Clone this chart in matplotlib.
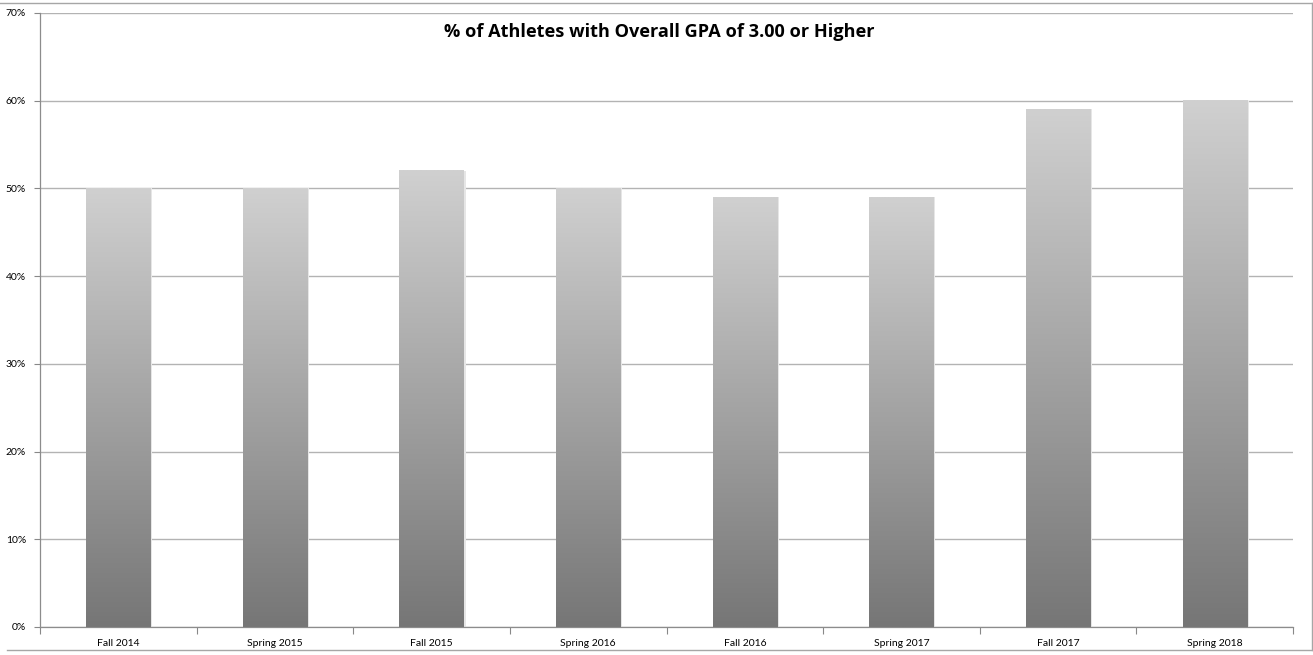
import numpy as np
import matplotlib
matplotlib.use('Agg')
import matplotlib.pyplot as plt
from matplotlib.lines import Line2D
from matplotlib.patches import Rectangle

terms = ['Fall 2014', 'Spring 2015', 'Fall 2015', 'Spring 2016',
         'Fall 2016', 'Spring 2017', 'Fall 2017', 'Spring 2018']
pct_high_gpa = [50, 50, 52, 50, 49, 49, 59, 60]

plt.rcParams['font.family'] = ['Lato', 'DejaVu Sans']

fig = plt.figure(figsize=(13.13, 6.55), dpi=100)
ax = fig.add_axes([40 / 1313, 1 - 627 / 655, 1253 / 1313, 614 / 655])

# vertical grey gradient, light at top, dark at bottom
grad = np.linspace(0, 1, 256).reshape(-1, 1)
cmap = matplotlib.colors.LinearSegmentedColormap.from_list('g', ['#767676', '#d0d0d0'])

x = np.arange(len(terms))
width = 0.41
for xi, val in zip(x, pct_high_gpa):
    x0, x1 = xi - width / 2, xi + width / 2
    # soft shadow on the right edge
    ax.add_patch(Rectangle((x1, 0), 0.012, val, color='#e6e6e6', lw=0, zorder=2))
    ax.imshow(grad, cmap=cmap, origin='lower', aspect='auto',
              extent=[x0, x1, 0, val], zorder=3, interpolation='bilinear')

ax.set_xlim(-0.5, len(terms) - 0.5)
ax.set_ylim(0, 70)
ax.set_yticks(range(0, 71, 10))
ax.set_yticklabels([f'{v}%' for v in range(0, 71, 10)], fontsize=7.5)
ax.set_xticks(x)
ax.set_xticklabels(terms, fontsize=7.5)
ax.set_xticks(np.arange(-0.5, len(terms)), minor=True)
ax.tick_params(axis='x', which='major', length=0, pad=9)
ax.tick_params(axis='x', which='minor', length=5, color='#888888', width=0.8)
ax.tick_params(axis='y', length=4, color='#888888', width=0.8, pad=6)

ax.grid(axis='y', color='#b3b3b3', lw=1, zorder=1)
ax.set_axisbelow(True)
for side in ['top', 'right']:
    ax.spines[side].set_visible(False)
for side in ['left', 'bottom']:
    ax.spines[side].set_color('#8c8c8c')
    ax.spines[side].set_linewidth(0.9)

fig.text(659 / 1313, 1 - 32 / 655, '% of Athletes with Overall GPA of 3.00 or Higher',
         ha='center', va='center', fontsize=13.1, fontweight='bold',
         family=['Open Sans', 'DejaVu Sans'])

# chart frame
fig.add_artist(Line2D([0, 1311.5 / 1313], [1 - 3 / 655] * 2, color='#a6a6a6', lw=1))
fig.add_artist(Line2D([7 / 1313, 1311.5 / 1313], [1 - 650 / 655] * 2, color='#a6a6a6', lw=1))
fig.add_artist(Line2D([1311.5 / 1313] * 2, [1 - 3 / 655, 1 - 650 / 655], color='#a6a6a6', lw=1))

fig.savefig('out.png', dpi=100)
